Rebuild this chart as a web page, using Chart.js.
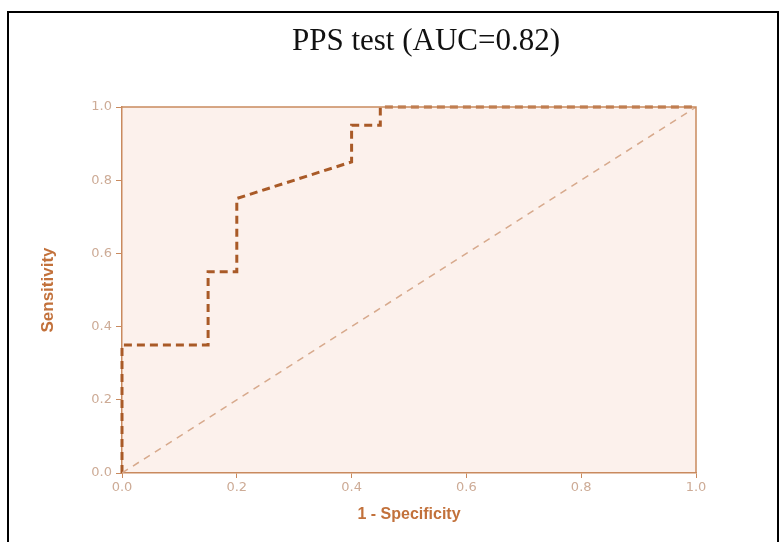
<!DOCTYPE html>
<html lang="en">
<head>
  <meta charset="UTF-8">
  <title>PPS test ROC</title>
  <script src="https://cdn.jsdelivr.net/npm/chart.js"></script>
  <style>
    html, body { margin: 0; padding: 0; background: #fff; }
    #wrap { width: 781px; height: 542px; }
  </style>
</head>
<body>
<div id="wrap"><canvas id="roc" width="781" height="542"></canvas></div>
<script>
  // ROC curve points
  const fpr = [0, 0, 0.15, 0.15, 0.2, 0.2, 0.4, 0.4, 0.45, 0.45, 1.0];
  const tpr = [0, 0.35, 0.35, 0.55, 0.55, 0.75, 0.85, 0.95, 0.95, 1.0, 1.0];
  const refX = [0, 1];
  const refY = [0, 1];
  const tickValues = [0, 0.2, 0.4, 0.6, 0.8, 1.0];
  const titleText = 'PPS test (AUC=0.82)';

  const axisColor = '#c98a5e';
  const tickLabelColor = '#cdab96';
  const titleColor = '#c2713b';

  const framePlugin = {
    id: 'frame',
    beforeDraw(chart) {
      const { ctx, chartArea: a } = chart;
      ctx.save();
      ctx.fillStyle = '#fff';
      ctx.fillRect(0, 0, chart.width, chart.height);
      ctx.fillStyle = '#fcf1ec';
      ctx.fillRect(a.left, a.top, a.right - a.left, a.bottom - a.top);
      // outer black frame
      ctx.strokeStyle = '#000';
      ctx.lineWidth = 2;
      ctx.beginPath();
      ctx.moveTo(8, 545);
      ctx.lineTo(8, 12);
      ctx.lineTo(778, 12);
      ctx.lineTo(778, 545);
      ctx.stroke();
      // title
      ctx.fillStyle = '#111';
      ctx.font = '31px "Liberation Serif", "Times New Roman", serif';
      ctx.textAlign = 'center';
      ctx.textBaseline = 'middle';
      ctx.fillText(titleText, 426, 42);
      ctx.restore();
    },
    afterDatasetsDraw(chart) {
      const { ctx, chartArea: a } = chart;
      ctx.save();
      ctx.strokeStyle = axisColor;
      ctx.lineWidth = 1.5;
      ctx.beginPath();
      ctx.moveTo(a.left, a.top);
      ctx.lineTo(a.right, a.top);
      ctx.lineTo(a.right, a.bottom);
      ctx.stroke();
      ctx.restore();
    }
  };

  const tickFont = { family: '"DejaVu Sans", sans-serif', size: 13 };

  new Chart(document.getElementById('roc'), {
    type: 'line',
    data: {
      datasets: [
        {
          label: 'Reference',
          data: refX.map((x, i) => ({ x, y: refY[i] })),
          borderColor: '#d7a98c',
          borderWidth: 1.5,
          borderDash: [7, 6],
          pointRadius: 0,
          fill: false,
          tension: 0
        },
        {
          label: 'PPS test',
          data: fpr.map((x, i) => ({ x, y: tpr[i] })),
          borderColor: '#a95a27',
          borderWidth: 3,
          borderDash: [8, 5],
          pointRadius: 0,
          fill: false,
          tension: 0,
          clip: 4
        }
      ]
    },
    options: {
      responsive: false,
      animation: false,
      layout: { padding: { top: 107, right: 85, bottom: 0, left: 0 } },
      plugins: {
        legend: { display: false },
        tooltip: { enabled: false },
        title: { display: false }
      },
      scales: {
        x: {
          type: 'linear',
          min: 0,
          max: 1,
          afterBuildTicks: s => { s.ticks = tickValues.map(v => ({ value: v })); },
          afterFit: s => { s.height = 69; },
          grid: { drawOnChartArea: false, drawTicks: true, tickLength: 5, color: axisColor },
          border: { color: axisColor, width: 1.5 },
          ticks: {
            color: tickLabelColor,
            font: tickFont,
            padding: 2,
            maxRotation: 0,
            callback: v => Number(v).toFixed(1)
          },
          title: {
            display: true,
            text: '1 - Specificity',
            color: titleColor,
            font: { family: '"Liberation Sans", Arial, sans-serif', size: 16, weight: 'bold' },
            padding: { top: 6, bottom: 18 }
          }
        },
        y: {
          type: 'linear',
          min: 0,
          max: 1,
          afterBuildTicks: s => { s.ticks = tickValues.map(v => ({ value: v })); },
          afterFit: s => { s.width = 122; },
          grid: { drawOnChartArea: false, drawTicks: true, tickLength: 6, color: axisColor },
          border: { color: axisColor, width: 1.5 },
          ticks: {
            color: tickLabelColor,
            font: tickFont,
            padding: 4,
            callback: v => Number(v).toFixed(1)
          },
          title: {
            display: true,
            text: 'Sensitivity',
            color: titleColor,
            font: { family: '"Liberation Sans Narrow", "Liberation Sans", Arial, sans-serif', size: 17, weight: 'bold' },
            padding: { top: 38, bottom: 18 }
          }
        }
      }
    },
    plugins: [framePlugin]
  });
</script>
</body>
</html>
